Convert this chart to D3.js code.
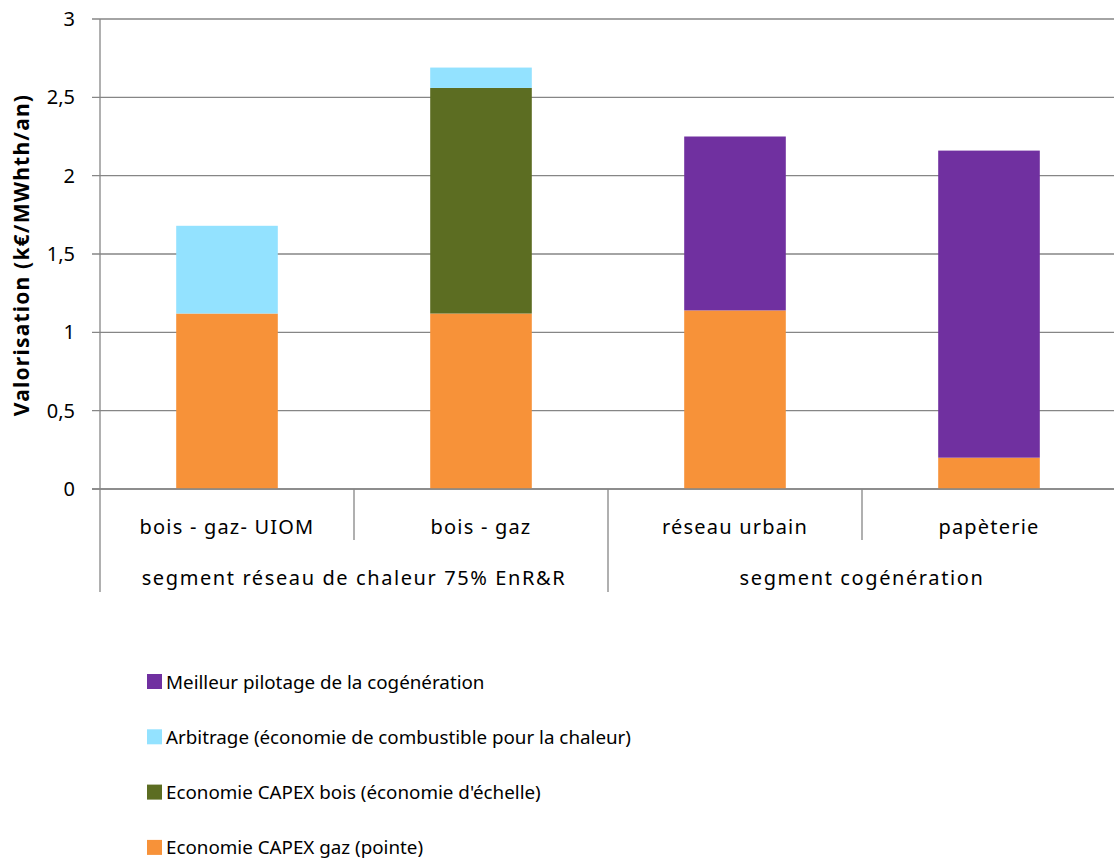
<!DOCTYPE html>
<html><head><meta charset="utf-8">
<script src="https://cdn.jsdelivr.net/npm/d3@7"></script>
<style>body{margin:0;background:#fff;} text{font-family:"Noto Sans",sans-serif;fill:#000;}</style>
</head><body>
<svg id="c" width="1114" height="861"></svg>
<script>
const categories = ["bois - gaz- UIOM", "bois - gaz", "réseau urbain", "papèterie"];
const groups = [
  {label: "segment réseau de chaleur 75% EnR&R", from: 0, to: 2},
  {label: "segment cogénération", from: 2, to: 4}
];
const seriesNames = [
  "Economie CAPEX gaz (pointe)",
  "Economie CAPEX bois (économie d'échelle)",
  "Arbitrage (économie de combustible pour la chaleur)",
  "Meilleur pilotage de la cogénération"
];
const capexGaz = [1.12, 1.12, 1.14, 0.20];
const capexBois = [0, 1.44, 0, 0];
const arbitrage = [0.56, 0.13, 0, 0];
const pilotage = [0, 0, 1.11, 1.96];
const colors = ["#F79239", "#5C6D22", "#93E2FF", "#7030A0"];
const yTicks = [0, 0.5, 1, 1.5, 2, 2.5, 3];
const yTickLabels = ["0", "0,5", "1", "1,5", "2", "2,5", "3"];
const yTitle = "Valorisation  (k€/MWhth/an)";

(function () {
const svg = d3.select("#c");
const pL = 100, pR = 1116, pT = 19, pB = 489;
const x = d3.scaleBand().domain(d3.range(categories.length)).range([pL, pR]).paddingInner(0).paddingOuter(0);
const y = d3.scaleLinear().domain([0, 3]).range([pB, pT]);
const grey = "#868686";

// gridlines
svg.append("g").selectAll("line").data(yTicks).join("line")
  .attr("x1", pL - 8).attr("x2", 1114)
  .attr("y1", d => y(d)).attr("y2", d => y(d))
  .attr("stroke", grey).attr("stroke-width", 1.3);

// y tick labels
svg.append("g").selectAll("text").data(yTicks).join("text")
  .attr("x", 75).attr("y", d => y(d)).attr("dy", "0.35em")
  .attr("text-anchor", "end").attr("font-size", 20)
  .text((d, i) => yTickLabels[i]);

// y title
svg.append("text").attr("transform", `translate(29,255) rotate(-90)`)
  .attr("text-anchor", "middle").attr("font-size", 21).attr("font-weight", "bold")
  .attr("letter-spacing", 1.2)
  .text(yTitle);

// stacks
const data = categories.map((c, i) => ({i, s0: capexGaz[i], s1: capexBois[i], s2: arbitrage[i], s3: pilotage[i]}));
const stack = d3.stack().keys(["s0", "s1", "s2", "s3"]);
const layers = stack(data);
const bw = x.bandwidth() * 0.4;
svg.append("g").selectAll("g").data(layers).join("g")
  .attr("fill", (d, k) => colors[k])
  .selectAll("rect").data(d => d.filter(p => p[1] - p[0] > 0)).join("rect")
  .attr("x", d => x(d.data.i) + (x.bandwidth() - bw) / 2)
  .attr("width", bw)
  .attr("y", d => y(d[1]))
  .attr("height", d => y(d[0]) - y(d[1]));

// vertical axis line
svg.append("line").attr("x1", pL).attr("x2", pL).attr("y1", pT).attr("y2", 592)
  .attr("stroke", grey).attr("stroke-width", 1.3);
// base axis line
svg.append("line").attr("x1", pL - 8).attr("x2", 1114).attr("y1", pB).attr("y2", pB)
  .attr("stroke", grey).attr("stroke-width", 1.3);

// category separators
const seps = d3.range(1, categories.length);
svg.append("g").selectAll("line").data(seps).join("line")
  .attr("x1", d => x(d)).attr("x2", d => x(d))
  .attr("y1", pB).attr("y2", d => groups.some(g => g.from === d) ? 592 : 540)
  .attr("stroke", grey).attr("stroke-width", 1.3);

// category labels
svg.append("g").selectAll("text").data(categories).join("text")
  .attr("x", (d, i) => x(i) + x.bandwidth() / 2).attr("y", 527).attr("dy", "0.35em")
  .attr("text-anchor", "middle").attr("font-size", 20).attr("letter-spacing", 1.2)
  .text(d => d);

// group labels
svg.append("g").selectAll("text").data(groups).join("text")
  .attr("x", g => (x(g.from) + x(g.to - 1) + x.bandwidth()) / 2).attr("y", 578).attr("dy", "0.35em")
  .attr("text-anchor", "middle").attr("font-size", 20).attr("letter-spacing", 1.6)
  .text(g => g.label);

// legend (reverse order)
const legendOrder = [3, 2, 1, 0];
const lg = svg.append("g").selectAll("g").data(legendOrder).join("g")
  .attr("transform", (d, j) => `translate(147,${682 + j * 55.3})`);
lg.append("rect").attr("x", 0).attr("y", -8).attr("width", 15).attr("height", 15).attr("fill", d => colors[d]);
lg.append("text").attr("x", 19).attr("y", 0).attr("dy", "0.35em").attr("font-size", 18.8)
  .text(d => seriesNames[d]);
})();
</script>
</body></html>
